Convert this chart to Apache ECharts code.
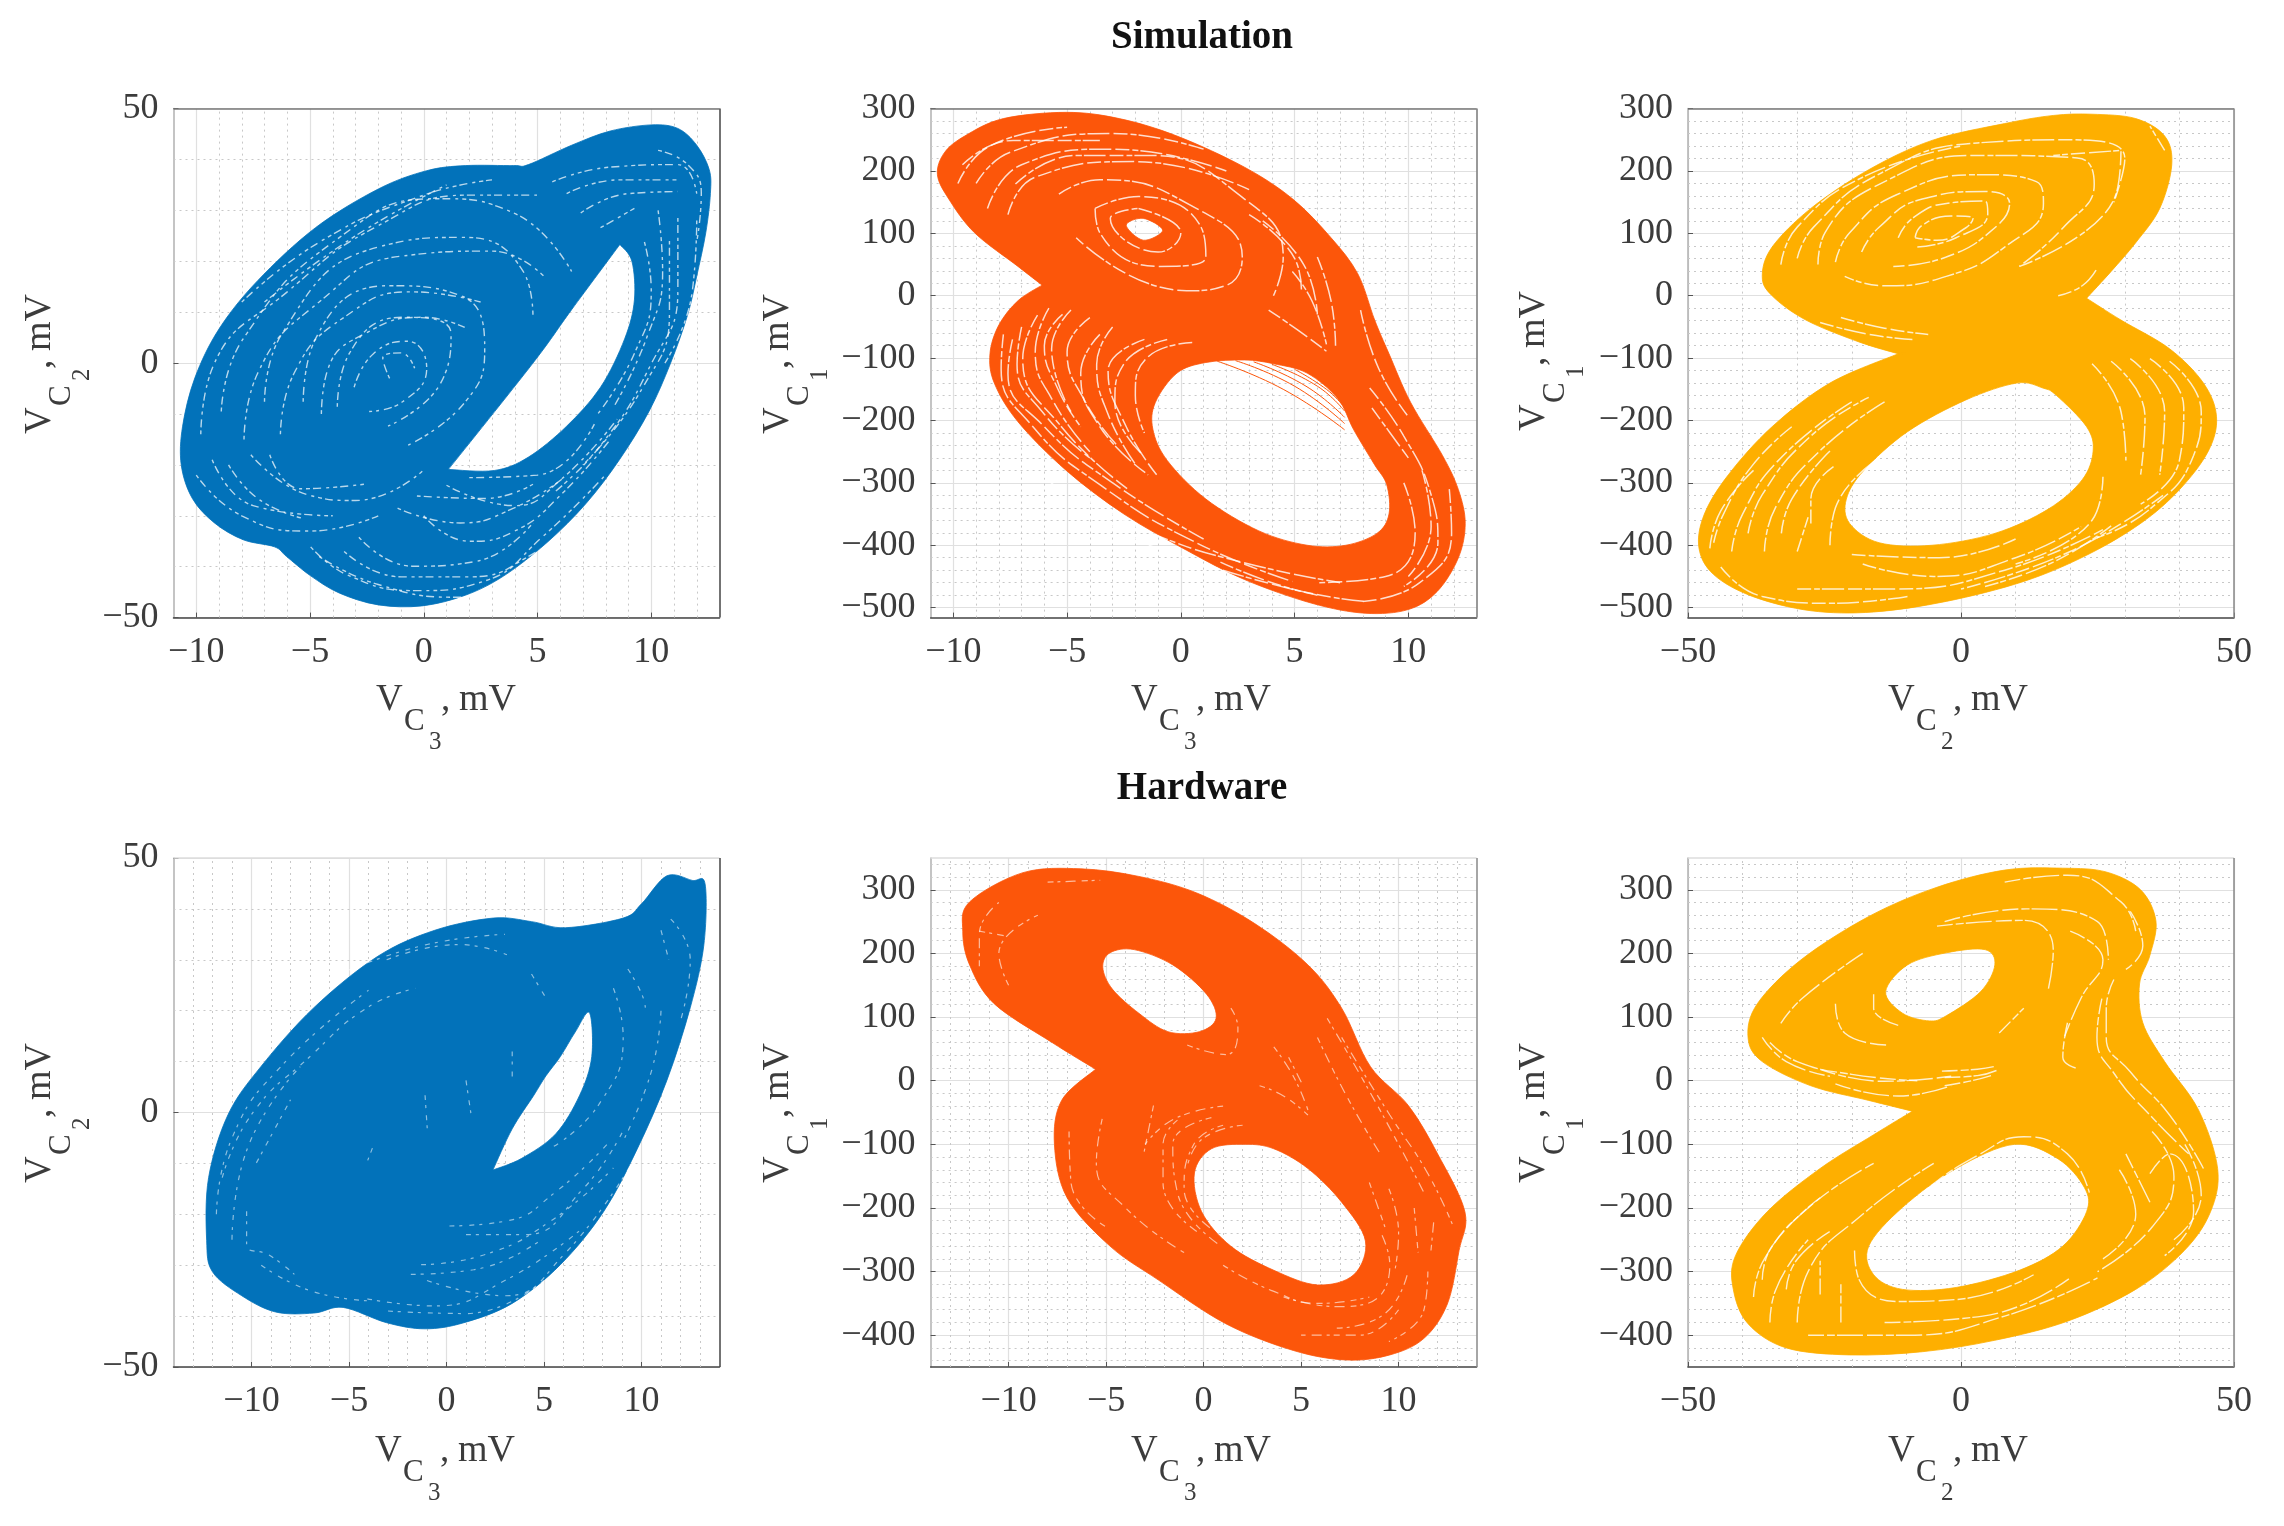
<!DOCTYPE html>
<html><head><meta charset="utf-8">
<style>html,body{margin:0;background:#fff}#c{width:2284px;height:1526px}#c canvas{filter:blur(.55px)}</style>
<script src="https://cdn.jsdelivr.net/npm/echarts@6/dist/echarts.min.js"></script>
</head><body><div id="c"></div>
<script>
// ---------- tick values ----------
const simV3Ticks=[-10,-5,0,5,10];
const simV3Minor=[-9,-8,-7,-6,-4,-3,-2,-1,1,2,3,4,6,7,8,9,11,12];
const hwV3Ticks=[-10,-5,0,5,10];
const hwV3Minor=[-13,-12,-11,-9,-8,-7,-6,-4,-3,-2,-1,1,2,3,4,6,7,8,9,11,12,13];
const v2Ticks=[-50,0,50];
const v2Minor=[-40,-30,-20,-10,10,20,30,40];
const simV1Ticks=[-500,-400,-300,-200,-100,0,100,200,300];
const simV1Minor=[-480,-460,-440,-420,-380,-360,-340,-320,-280,-260,-240,-220,-180,-160,-140,-120,-80,-60,-40,-20,20,40,60,80,120,140,160,180,220,240,260,280];
const hwV1Ticks=[-400,-300,-200,-100,0,100,200,300];
const hwV1Minor=[-440,-420,-380,-360,-340,-320,-280,-260,-240,-220,-180,-160,-140,-120,-80,-60,-40,-20,20,40,60,80,120,140,160,180,220,240,260,280,320,340];

// ---------- Simulation: V_C3 vs V_C2 ----------
const sim32Outline=[[10,46.8],[11.17,46.1],[12,42.8],[12.55,38],[12.6,33.3],[12.4,25.7],[12,17.1],[11.6,9.5],[10.85,0],[9.9,-9.5],[8.6,-19],[7.13,-27.6],[5.43,-35.2],[3.52,-41.8],[1.83,-45.6],[-0.08,-47.7],[-2,-47.5],[-3.7,-45.2],[-4.97,-41.8],[-6.03,-38],[-6.56,-36.1],[-7.94,-34.7],[-9.2,-31.4],[-10.17,-26.6],[-10.66,-20],[-10.6,-12.4],[-10.06,-2.9],[-9,6.7],[-7.3,16.2],[-4.76,26.6],[-2,34.2],[0.13,37.8],[1.83,38.8],[3.95,38.8],[4.6,39],[6.5,42.8],[8.2,45.6]];
const sim32Holes=[[[8.62,23.3],[8.62,23.3],[9.15,20],[9.26,12.4],[8.83,4.75],[7.77,-4.75],[6.28,-12.4],[4.59,-18.5],[3.1,-21.1],[1.08,-20.9],[1.08,-20.9],[4.8,0],[6.5,10.5]]];
const sim32Gaps=[
[[-3.06,-4.75],[-2.2,1.9],[-0.72,4.3],[0.13,-1],[-0.93,-7.6],[-2.4,-9.5]],
[[-3.8,-8.6],[-3.27,1.9],[-0.93,9],[1.2,5.7],[0.76,-3.8],[-1.57,-12.4]],
[[-5.3,-7.6],[-4.76,4.75],[-1.57,15.2],[1.6,13.3],[2.68,2.85],[1.83,-7.6],[-0.72,-16.2]],
[[-7,-7.6],[-6.24,5.7],[-2,22.8],[1.83,24.7],[4.37,18],[4.8,9.5]],
[[-8.9,-9.5],[-7.94,4.75],[-3.7,24.7],[0.55,32.3],[3.95,29.5],[6.5,18]],
[[-8.58,-20],[-7.3,-26.6],[-5.4,-30.4]],
[[-6.77,-18],[-5.4,-24.7],[-2.63,-23.8]],
[[-4.97,-36.1],[-3.27,-41.8],[-0.3,-44.7],[2.68,-42.8],[5.2,-34.2],[8,-21.9]],
[[-2.85,-34.2],[-0.5,-39.9],[2.25,-39],[4.8,-31.4]],
[[-1.15,-28.5],[1.6,-31.4],[3.95,-28.5],[6.07,-22.8]],
[[-0.3,-26.1],[2.68,-26.6],[4.8,-23.8]],
[[5.65,35.6],[8.2,38.5],[11.17,39],[12,33.3]],
[[6.28,33.3],[8.6,36],[11.17,36]],
[[6.9,29.5],[9,33.3],[11.17,33.7]],
[[7.77,26.6],[9.26,30.4]],
[[10.3,41.8],[11.6,39],[12.2,33.3],[12,23.8]],
[[9.7,23.8],[10,14.3],[9.26,1.9],[7.56,-10.5]],
[[11.17,28.5],[11.17,14.3],[9.9,-1],[7.77,-16.2],[5.65,-25.7]],
[[-9.8,-14],[-9.2,0],[-6,14],[-2,27],[2,33],[5,33]],
[[-7.9,-15],[-7.3,-2],[-4.6,12],[-1,21],[3,22],[5.3,17]],
[[-6.3,-14],[-5.7,-2],[-3.5,9],[-0.5,14],[2.5,12]],
[[-4.5,-10],[-4.2,-1],[-2.5,6],[0,9],[1.8,7]],
[[-1.5,-3],[-1.8,1],[-1,2],[-0.4,-1]],
[[-10,-22],[-8,-30],[-5,-33],[-2,-30]],
[[-9.3,-19],[-7.5,-28],[-4,-30]],
[[-7.6,-18],[-5,-26],[-3,-27],[0,-21]],
[[-8,12],[-4.5,24],[0,33],[3,36]],
[[-7,12],[-3,25],[1,35]],
[[-3.5,-37],[-1,-42],[2,-42],[5,-37],[8,-28],[10,-15]],
[[-4.6,-38],[-2,-43.5],[1.5,-46],[5,-40],[8,-30]],
[[0,-30],[2,-35],[4,-33],[6,-26],[8.2,-15]],
[[1,-24],[4,-28],[6,-23],[8.5,-11]],
[[2,-22.5],[5,-22],[7.5,-12]],
[[10.8,24],[10.8,10],[9.6,-5],[7,-20]],
[[10.3,30],[10.5,18],[9.8,5],[8.3,-9]],
[[12,28],[11.8,14],[10.6,0]]
];
// ---------- Simulation: V_C3 vs V_C1 ----------
const sim31Outline=[[-5.04,294],[-2.71,284],[-0.17,256],[2.8,206],[4.92,155],[6.6,93],[7.78,35],[8.52,-39],[9.15,-93],[10.1,-171],[11.5,-256],[12.2,-311],[12.5,-365],[12.2,-420],[11.27,-474],[10,-503],[8.1,-509],[5.76,-493],[2.8,-455],[0.25,-408],[-2.5,-350],[-5.04,-280],[-7.16,-202],[-8.2,-140],[-8.39,-93],[-8,-47],[-7.16,-8],[-6.1,17],[-6.1,17],[-7.16,47],[-9.07,101],[-10.2,155],[-10.7,194],[-10.4,229],[-9.5,256],[-7.8,284]];
const sim31Holes=[
[[1.1,-107],[-0.17,-124],[-1.12,-171],[-1.23,-214],[-0.6,-264],[1.1,-326],[3.43,-377],[5.55,-400],[7.25,-400],[8.62,-381],[9.15,-350],[9.05,-303],[8.5,-270],[7.6,-215],[6.9,-165],[5.55,-124],[4.07,-109],[2.8,-103]],
[[-2.4,113],[-1.65,124],[-0.8,105],[-1.65,89]]];
const sim31Gaps=[
[[-1.86,140],[0,101],[-1,70],[-3.1,124],[-1.86,140]],
[[-3.77,140],[-1.86,159],[0.9,109],[1.1,62],[-1,47],[-3.56,101],[-3.77,140]],
[[-5.36,163],[-3.56,186],[0.68,140],[2.7,62],[1.95,16],[0.25,8],[-4.6,93]],
[[-7.27,179],[-4.6,225],[-1.44,225],[2.8,155],[4.5,62],[4.07,0]],
[[-9.6,210],[-7.37,249],[-3.56,249]],
[[-7.8,-62],[-7.9,-117],[-6.5,-210],[-3.56,-303],[0.68,-396],[4.9,-458]],
[[-6.3,-31],[-6.95,-101],[-5.25,-210],[-2.3,-311]],
[[-4.83,-23],[-5.68,-85],[-4.83,-186]],
[[-3.56,-62],[-4.4,-124],[-3.56,-210],[-1.44,-287]],
[[-0.6,-70],[-2.5,-109],[-2.9,-171],[-1.65,-256]],
[[4.9,39],[5.76,-8],[6.4,-78]],
[[3.86,-23],[5.1,-54],[6.4,-89]],
[[6,62],[6.6,-8],[6.8,-80]],
[[7.9,-23],[8.7,-117],[10,-194]],
[[8.3,-148],[9.8,-225],[11,-319],[11.3,-396],[9.8,-466]],
[[1.74,-427],[4.9,-470],[8.1,-490]],
[[-7.4,-70],[-7.6,-125],[-6,-210],[-3,-300],[1,-390]],
[[-7,-50],[-7.2,-110],[-6,-190],[-4,-260]],
[[-5.8,-20],[-6.4,-90],[-5.6,-170],[-4,-250]],
[[-5.2,-30],[-6,-80],[-5.4,-150],[-4.4,-210]],
[[-4,-35],[-5,-90],[-4.2,-170],[-2.8,-240]],
[[-3,-50],[-3.7,-110],[-3.2,-190],[-2,-270]],
[[-1.6,-70],[-3.2,-120],[-2.4,-210],[-1,-290]],
[[0.5,-75],[-1.5,-100],[-2,-160],[-1.6,-220]],
[[-9,180],[-7.5,230],[-3,260],[1,235]],
[[-9.8,180],[-8.4,240],[-5,270]],
[[-8.5,140],[-7,210],[-3,235],[2,200]],
[[-7.6,130],[-6.4,190],[-2,215],[3,170]],
[[3,130],[5,60],[5.3,10]],
[[3.6,120],[5.4,50],[6,-30]],
[[11.8,-310],[11.9,-380],[10.5,-460],[8,-490]],
[[10.6,-280],[11,-370],[10,-450]],
[[9.8,-300],[10.3,-380],[9,-450],[6,-460]],
[[7,-460],[3,-430],[-1,-385],[-4,-330]],
[[6,-480],[1,-430],[-3,-370],[-6,-290]],
[[8.4,-180],[10,-260]]
];
const sim31Hatch=[
[[1.6,-105],[4.5,-150],[7.2,-215]],[[2.4,-104],[5,-145],[7.2,-205]],[[3.2,-106],[5.5,-145],[7.2,-195]],[[4,-110],[6,-145],[7.2,-185]],[[5,-118],[6.4,-150],[7.1,-175]]
];
// ---------- Simulation: V_C2 vs V_C1 ----------
const sim21Outline=[[24,291],[32,284],[37.3,256],[38.6,210],[36.4,140],[32,85],[27.5,39],[23,-4],[23,-4],[29.3,-39],[38.2,-85],[44.4,-140],[46.8,-194],[45.3,-249],[40,-311],[32.9,-365],[23,-416],[11.5,-458],[-2.7,-490],[-16,-507],[-27.5,-505],[-38.2,-482],[-45.3,-447],[-48,-404],[-47,-350],[-42.6,-287],[-34.6,-210],[-24,-140],[-11.5,-93],[-11.5,-93],[-18.7,-74],[-28.4,-39],[-34.6,0],[-36.4,31],[-34.6,78],[-27.5,140],[-16.9,202],[-5.3,249],[8,276],[16.9,289]];
const sim21Holes=[[[10.2,-140],[15,-148],[17.5,-160],[23,-210],[24.2,-249],[22.2,-295],[16,-342],[6.2,-381],[-5.3,-400],[-15,-396],[-20.4,-365],[-21,-326],[-17.8,-280],[-9.8,-218],[0.9,-167]]];
const sim21Gaps=[
[[24,-109],[29.3,-186],[30.2,-264]],
[[27.5,-105],[33.7,-194],[32.9,-287]],
[[31,-101],[37.3,-186],[36.4,-287]],
[[34.6,-101],[40.8,-179],[40,-264],[32.9,-334]],
[[38.2,-105],[44,-186],[42.6,-256],[34.6,-342],[24.9,-388]],
[[-8.4,93],[-7.1,113],[-1.8,128],[2.2,124],[0.9,109],[-4.4,89],[-8.4,93]],
[[-11.5,93],[-8.9,124],[-2.7,148],[4.4,152],[4.9,132],[-0.9,93],[-8,78]],
[[-18.2,70],[-15.1,109],[-7.1,155],[4.4,167],[8.9,148],[6.2,109],[-2.7,62],[-12.4,47]],
[[-23,54],[-20.4,101],[-11.5,163],[3.6,194],[13.8,183],[15.1,148],[8,78],[-2.7,31],[-14.2,16],[-21.3,31]],
[[-26.2,50],[-24.9,101],[-13.3,186],[3.6,225],[21.3,221],[24.4,179],[18.7,109],[10.7,47]],
[[10.7,47],[28.4,163],[29.3,233],[16.9,225]],
[[37.3,233],[34.6,272]],
[[-25.8,-43],[-16.9,-62],[-8.9,-70]],
[[-22,-35],[-14,-52],[-6,-62]],
[[17.8,0],[22.2,16],[25,45]],
[[-45.3,-396],[-43.5,-350],[-38.2,-272],[-31,-210]],
[[-44,-435],[-36.4,-482],[-24,-493],[-9.8,-482]],
[[-39,-381],[-36.4,-319],[-27.5,-225],[-16.9,-163]],
[[-32.9,-381],[-31,-326],[-24,-249]],
[[-27.5,-365],[-27.5,-326],[-23,-272]],
[[27.5,-369],[16.9,-427],[4.4,-466]],
[[-30,60],[-27,110],[-15,195],[3,245],[20,250],[30,220],[28,150]],
[[-33,50],[-30,110],[-18,190],[0,240]],
[[-46,-405],[-44,-345],[-38,-280]],
[[-42,-410],[-40,-350],[-33,-260],[-20,-170]],
[[-36,-410],[-34,-340],[-26,-250],[-14,-170]],
[[-30,-410],[-28,-355]],
[[-24,-400],[-23,-340],[-15,-260]],
[[-18,-430],[-5,-450],[10,-420],[22,-370]],
[[-30,-470],[-12,-470],[8,-440],[26,-375]],
[[-20,-415],[-4,-420],[10,-390]],
[[26,-290],[24,-360],[10,-430]],
[[37,-320],[20,-410],[0,-470]]
];
// ---------- Hardware: V_C3 vs V_C2 ----------
const hw32Outline=[[11.3,46.5],[12.6,45.6],[13.26,44.9],[13.2,33],[12.5,20.6],[11.3,6.3],[9.8,-7],[8.07,-19.4],[5.84,-29.9],[3.37,-37.5],[0.89,-41.3],[-1.1,-42.5],[-3.07,-41.3],[-5.3,-38.3],[-6.8,-39.4],[-8.76,-39.2],[-10.5,-36],[-12,-31.3],[-12.3,-25.1],[-12.2,-12.8],[-11.2,-0.4],[-9.5,9.1],[-6.8,20.6],[-3.56,30.6],[-0.6,35.8],[2.4,38.2],[4.36,37.5],[6.1,36.3],[9.06,38.2],[10,41]];
const hw32Holes=[[[7.33,19.6],[7.45,11],[6.83,3.4],[5.6,-4.2],[3.86,-9],[2.38,-11.3],[2.38,-11.3],[3.37,-3.2],[4.48,3.4],[5.1,7.2],[5.84,11],[6.6,15.8]]];
const hw32Gaps=[
[[-10.25,-19.4],[-10.25,-26],[-9.1,-28],[-7.8,-31.8]],
[[9.3,28.2],[10,23.4],[10.2,20.6]],
[[11,35.8],[11.4,30]],
[[0.15,-22.3],[3.1,-21.3],[5.6,-15.6],[8.3,-6]],
[[-1.3,-29.9],[1.9,-28],[5.35,-21.3],[8.56,-10.9]],
[[-1.83,-31.8],[1.39,-30.9],[4.85,-25]],
[[-4.06,-36.6],[-0.6,-38],[3.1,-32.8],[6.83,-23.2]],
[[-11.5,-12.8],[-10,-0.4],[-7,11],[-4.06,20.6],[-1.58,24.4]],
[[-9.75,-9.9],[-8,2.5]],
[[-3.07,30],[0.64,33],[3.1,31]],
[[4.36,27.2],[5.1,22.5]],
[[3.37,12],[3.37,6.3]],
[[-1.1,3.4],[-0.97,-4.2]],
[[1,6.3],[1.26,-0.4]],
[[-3.8,-7],[-4.1,-10]],
[[8.56,24.4],[9.06,14.9],[7.8,1.5],[5.35,-7]],
[[-11.8,-20],[-11,-5],[-8.5,9],[-4,24]],
[[-11,-25],[-10.3,-8],[-7.5,9]],
[[-9.5,-30],[-7,-35],[-4,-37]],
[[-5,28],[-1,33],[3,35]],
[[1,-24],[4,-24],[7,-15],[9,-4]],
[[-1,-33],[3,-36],[6,-28],[9.5,-10]],
[[-3,-39],[1,-39.5],[5,-33]],
[[11,20],[10.5,8],[9,-6]],
[[11.5,38],[12.5,30],[12,18]]
];
// ---------- Hardware: V_C3 vs V_C1 ----------
const hw31Outline=[[-6.29,333],[-3.32,321],[-0.35,295],[2.62,247],[5.35,182],[7.08,114],[8.56,22],[10.5,-39],[12,-115],[13.4,-206],[13.1,-267],[12.5,-351],[11.3,-405],[9.55,-431],[7.33,-439],[4.6,-424],[1.14,-382],[-2.33,-313],[-4.8,-260],[-7,-184],[-7.65,-100],[-7.28,-31],[-5.54,18],[-5.54,18],[-7.77,60],[-10.74,121],[-12,182],[-12.35,235],[-12,281],[-9.26,327]];
const hw31Holes=[
[[-4.8,201],[-3.56,206],[-1.58,182],[0.15,136],[0.64,98],[-0.22,77],[-1.83,77],[-3.32,106],[-4.68,144],[-5.17,178]],
[[2.13,-100],[3.6,-107],[5.35,-138],[7.08,-191],[8.3,-252],[7.7,-305],[5.84,-321],[3.6,-298],[1.39,-260],[-0.1,-206],[-0.47,-145],[0.4,-107]]];
const hw31Gaps=[
[[3.6,53],[4.6,7],[5.35,-46]],
[[2.87,-8],[4.1,-24],[5.35,-54]],
[[4.36,37],[5.1,-8]],
[[6.34,98],[8.07,7],[10,-100],[11.3,-176]],
[[7.08,68],[9.55,-54],[11.5,-146],[12.8,-229]],
[[5.84,68],[7.33,-24],[9.06,-115]],
[[-2.57,-39],[-3.07,-115]],
[[-1.34,-62],[-2.08,-100],[-2.08,-161],[-0.35,-237]],
[[0.4,-58],[-1.58,-100],[-1.34,-176],[0.9,-260]],
[[4.1,-340],[6.83,-355],[8.3,-351],[9.55,-290],[9.06,-237]],
[[6.83,-389],[9.3,-366],[10.5,-298]],
[[11.66,-267],[11.8,-222]],
[[-11.5,235],[-10.25,228]],
[[-8,312],[-5.3,315]],
[[-0.84,56],[1.14,41],[1.76,83],[1.4,114]],
[[-11.5,180],[-11.5,230],[-10.5,280]],
[[-10,150],[-10.5,200],[-8.5,260]],
[[1,-40],[-1.5,-60],[-3,-100]],
[[-6.9,-80],[-6.8,-160],[-5,-230]],
[[-5.2,-60],[-5.5,-130],[-4,-200],[-1,-270]],
[[1,-70],[-0.5,-100],[-1,-170],[0.5,-235]],
[[2,-70],[0,-90],[-0.8,-130]],
[[1,-290],[3.5,-330],[6,-350],[8.5,-340]],
[[10,-360],[8,-400],[5,-400]],
[[11.5,-300],[11.3,-360],[9.5,-410]],
[[10.8,-200],[11,-270]],
[[9.5,-170],[10,-240],[9.8,-300]],
[[8.5,-160],[9.3,-230]]
];
// ---------- Hardware: V_C2 vs V_C1 ----------
const hw21Outline=[[18.65,334],[26.6,328],[32.9,300],[35.7,251],[34.6,197],[32.7,152],[33.3,91],[37.3,30],[43.5,-46],[47,-138],[45.7,-206],[40.9,-267],[32,-328],[19.5,-378],[6.2,-408],[-7.1,-426],[-20.4,-431],[-32,-420],[-39,-382],[-41.7,-328],[-41.3,-275],[-35.5,-206],[-25.8,-138],[-16,-85],[-8.9,-48],[-8.9,-48],[-16.9,-31],[-27.5,-8],[-36.4,30],[-39,68],[-37.3,121],[-29.3,190],[-16.9,258],[-4.4,304],[8,331]];
const hw21Holes=[
[[-13.8,140],[-9.8,182],[-2.7,201],[4.4,206],[6.2,182],[3.6,140],[-2.7,102],[-5.8,94],[-10.7,106]],
[[9.8,-100],[17.8,-123],[22.6,-168],[23,-206],[18.65,-260],[10.7,-298],[-0.9,-325],[-10.7,-328],[-16,-305],[-16.9,-260],[-10.7,-199],[-0.9,-138]]];
const hw21Gaps=[
[[25.8,129],[24.9,68],[28.4,7],[34.6,-54],[41.7,-115]],
[[28,159],[26.6,114],[26.6,68],[31,14],[38.2,-54],[44.4,-138]],
[[19.5,91],[18.65,37],[21,20]],
[[31,266],[33.3,212],[30.2,175]],
[[8,312],[19.5,323],[29.3,281],[32,235]],
[[-4.4,243],[11.5,252],[16.9,205],[16,144]],
[[7,75],[11.5,114]],
[[-3.5,15],[3,18],[6,22]],
[[-3,5],[3,8],[6.5,16]],
[[-3,-8],[2,0],[5.5,8]],
[[-25.8,18],[-14.2,-1],[-1.8,7]],
[[-23,-5],[-11.5,-24],[-1.8,-8]],
[[-36.4,68],[-32,30],[-24,7]],
[[-23,121],[-21.3,75],[-13.3,56]],
[[-16,136],[-16,114],[-11.5,87]],
[[-19.5,-267],[-18.65,-313],[-11.5,-347],[-0.9,-344],[13.3,-305]],
[[-13.3,-229],[-7.1,-176],[3.55,-115],[11.5,-88],[19.5,-115],[23.5,-176]],
[[-36.4,-313],[-34.6,-260],[-25.8,-184]],
[[-32,-328],[-30.2,-283],[-24,-237]],
[[-25.8,-336],[-25.8,-283]],
[[34.6,-146],[38.2,-115],[42.6,-206],[37.3,-275]],
[[30.2,-115],[34.6,-191]],
[[-38,-340],[-36,-280],[-28,-200],[-16,-130]],
[[-35,-380],[-34,-330],[-28,-250]],
[[-30,-380],[-28,-300],[-18,-210],[-5,-130]],
[[-22,-380],[-22,-320]],
[[-28,-400],[-10,-400],[8,-370],[25,-310]],
[[-14,-380],[4,-370],[20,-310]],
[[-33,90],[-29,130],[-18,200]],
[[-35,60],[-30,30],[-20,10],[-8,0]],
[[-3,250],[12,270],[25,250],[27,190]],
[[20,235],[26,190],[22,130],[19,70]],
[[35,-80],[39,-150],[35,-230],[25,-300]],
[[41,-100],[44,-180],[39,-250]],
[[29,-140],[32,-210],[26,-280]]
];

const BLUE='#0272ba',ORANGE='#fc560a',YELLOW='#feaf00';
const FONT='"Liberation Serif","Times New Roman",serif';
const TXT='#3c3c3c';

const panels=[
{l:173.5,t:108.6,xr:[-11,13],yr:[-50,50],xt:simV3Ticks,xm:simV3Minor,yt:v2Ticks,ym:v2Minor,c:BLUE,o:sim32Outline,h:sim32Holes,g:sim32Gaps,xn:[376,711,'3'],yn:[51,434,'2'],dash:[4,3,8,5,3,4],gw:1.4,ga:.72,top:'#777',right:'#444'},
{l:930.6,t:108.6,xr:[-11,13],yr:[-516,300],xt:simV3Ticks,xm:simV3Minor,yt:simV1Ticks,ym:simV1Minor,c:ORANGE,o:sim31Outline,h:sim31Holes,g:sim31Gaps,hatch:sim31Hatch,xn:[1131,711,'3'],yn:[789,434,'1'],dash:[14,3,6,2,22,4],gw:1.5,ga:.8,top:'#777',right:'#777'},
{l:1688,t:108.6,xr:[-50,50],yr:[-516,300],xt:[-50,0,50],xm:[-40,-30,-20,-10,10,20,30,40],yt:simV1Ticks,ym:simV1Minor,c:YELLOW,o:sim21Outline,h:sim21Holes,g:sim21Gaps,xn:[1888,711,'2'],yn:[1545,431,'1'],dash:[14,3,6,2,22,4],gw:1.5,ga:.8,top:'#777',right:'#888'},
{l:173.5,t:858,xr:[-14,14],yr:[-50,50],xt:hwV3Ticks,xm:hwV3Minor,yt:v2Ticks,ym:v2Minor,c:BLUE,o:hw32Outline,h:hw32Holes,g:hw32Gaps,xn:[375,1462,'3'],yn:[51,1183,'2'],dash:[5,5,3,7],gw:1.2,ga:.55,top:'#ddd',right:'#444'},
{l:930.6,t:858,xr:[-14,14],yr:[-450,350],xt:hwV3Ticks,xm:hwV3Minor,yt:hwV1Ticks,ym:hwV1Minor,c:ORANGE,o:hw31Outline,h:hw31Holes,g:hw31Gaps,xn:[1131,1462,'3'],yn:[789,1183,'1'],dash:[6,4,3,5,10,6],gw:1.2,ga:.6,top:'#ddd',right:'#888'},
{l:1688,t:858,xr:[-50,50],yr:[-450,350],xt:[-50,0,50],xm:[-40,-30,-20,-10,10,20,30,40],yt:hwV1Ticks,ym:hwV1Minor,c:YELLOW,o:hw21Outline,h:hw21Holes,g:hw21Gaps,xn:[1888,1462,'2'],yn:[1545,1183,'1'],dash:[16,3,8,2,26,4],gw:1.4,ga:.8,top:'#ddd',right:'#888'}
];
const PW=546,PH=509;

function closedPath(pts){ // closed Catmull-Rom through the projected points
  const n=pts.length;let d='M'+pts[0][0]+' '+pts[0][1];
  for(let i=0;i<n;i++){
    const p0=pts[(i-1+n)%n],p1=pts[i],p2=pts[(i+1)%n],p3=pts[(i+2)%n];
    d+='C'+(p1[0]+(p2[0]-p0[0])/6)+' '+(p1[1]+(p2[1]-p0[1])/6)+' '+(p2[0]-(p3[0]-p1[0])/6)+' '+(p2[1]-(p3[1]-p1[1])/6)+' '+p2[0]+' '+p2[1];
  }
  return d+'Z';
}
function area(p){let a=0;for(let i=0;i<p.length;i++){const q=p[(i+1)%p.length];a+=p[i][0]*q[1]-q[0]*p[i][1];}return a;}
const minus=v=>String(v).replace('-','\u2212');

const grid=[],xAxis=[],yAxis=[],series=[],graphic=[];
function addText(x,y,text,size,rot,weight){
  graphic.push({type:'text',x,y,rotation:rot,silent:true,z:50,style:{text,fill:TXT,font:(weight||'')+' '+size+'px '+FONT,textAlign:'left',textVerticalAlign:'bottom'}});
}
function axisName(base,start,sub,horizontal){
  const P=[['V',37,0,0],['C',31,28,20],[sub,25,53,38],[',',37,65,0],['mV',38,83,0]];
  P.forEach(([t,s,d,b])=>{
    const drop=s*0.22;
    if(horizontal) addText(start+d,base+b+drop,t,s,0);
    else addText(base+b+drop,start-d,t,s,Math.PI/2);
  });
}
panels.forEach((p,i)=>{
  grid.push({left:p.l,top:p.t,width:PW,height:PH,show:false,containLabel:false});
  const ax=(r,t,m)=>({type:'value',gridIndex:i,min:r[0],max:r[1],
    axisLine:{show:true,onZero:false,lineStyle:{color:'#444',width:1.5}},
    axisTick:{show:true,inside:true,length:5,customValues:t,lineStyle:{color:'#555'}},
    axisLabel:{show:true,customValues:t,margin:m,fontFamily:FONT,fontSize:36,color:TXT,formatter:minus,hideOverlap:false,showMinLabel:true,showMaxLabel:true},
    splitLine:{show:true,lineStyle:{color:'#e0e0e0',width:1.2}},minorSplitLine:{show:false}});
  xAxis.push(ax(p.xr,p.xt,17));yAxis.push(ax(p.yr,p.yt,15));
  yAxis[i].axisLine.lineStyle={color:'#b0b0b0',width:1.5};
  // dotted minor grid, plus the top and right of the box
  series.push({type:'line',xAxisIndex:i,yAxisIndex:i,data:[],z:1,silent:true,animation:false,
    markLine:{silent:true,symbol:'none',animation:false,label:{show:false},lineStyle:{type:[2,4],color:'#c8c8c8',width:1},
      data:p.xm.map(v=>({xAxis:v})).concat(p.ym.map(v=>({yAxis:v})),
        [{yAxis:p.yr[1],lineStyle:{type:'solid',color:p.top,width:1.5}},{xAxis:p.xr[1],lineStyle:{type:'solid',color:p.right,width:1.5}}])}});
  // dense trajectory body
  const all=p.o.concat(...p.h);
  series.push({type:'custom',xAxisIndex:i,yAxisIndex:i,data:all,encode:{x:0,y:1},z:6,silent:true,animation:false,clip:false,
    renderItem(par,api){
      if(par.dataIndex!==0) return null;
      const prj=l=>l.map(q=>api.coord(q));
      let o=prj(p.o);const s=Math.sign(area(o));let d=closedPath(o);
      p.h.forEach(h=>{let q=prj(h);if(Math.sign(area(q))===s)q=q.reverse();d+=closedPath(q);});
      return {type:'path',shape:{pathData:d},style:{fill:p.c,stroke:p.c,lineWidth:.8}};
    }});
  // streaks where the trajectory leaves the paper visible
  p.g.forEach(a=>series.push({type:'line',xAxisIndex:i,yAxisIndex:i,data:a,smooth:true,showSymbol:false,z:7,silent:true,animation:false,
    lineStyle:{color:'#fff',opacity:p.ga,width:p.gw,type:p.dash}}));
  (p.hatch||[]).forEach(a=>series.push({type:'line',xAxisIndex:i,yAxisIndex:i,data:a,smooth:true,showSymbol:false,z:7,silent:true,animation:false,
    lineStyle:{color:p.c,width:1}}));
  axisName(p.xn[1],p.xn[0],p.xn[2],true);
  axisName(p.yn[0],p.yn[1],p.yn[2],false);
});
[['Simulation',38],['Hardware',789]].forEach(([t,y])=>{
  graphic.push({type:'text',x:1202,y,silent:true,z:50,style:{text:t,fill:'#111',font:'bold 39px '+FONT,textAlign:'center',textVerticalAlign:'middle'}});
});
const chart=echarts.init(document.getElementById('c'),null,{renderer:'canvas',width:2284,height:1526});
chart.setOption({animation:false,backgroundColor:'#fff',grid,xAxis,yAxis,series,graphic});
</script></body></html>
